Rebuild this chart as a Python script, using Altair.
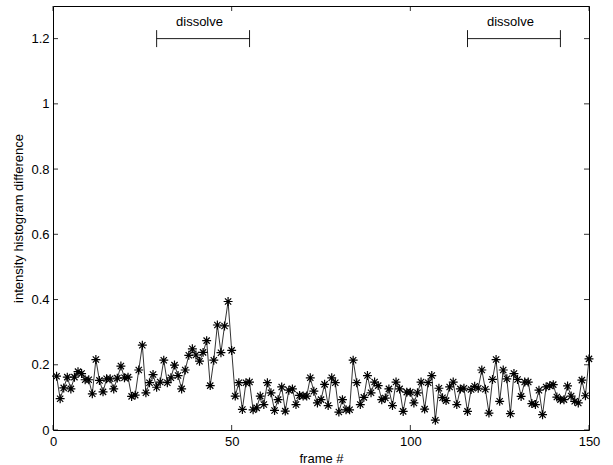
import altair as alt
import pandas as pd

# ---- data ----
frames = list(range(1, 151))
diff = [
    0.165, 0.096, 0.129, 0.162, 0.126, 0.162, 0.179, 0.173, 0.154, 0.154,
    0.111, 0.216, 0.152, 0.117, 0.157, 0.157, 0.126, 0.159, 0.196, 0.160,
    0.162, 0.103, 0.107, 0.184, 0.260, 0.114, 0.145, 0.170, 0.131, 0.147,
    0.214, 0.145, 0.160, 0.199, 0.167, 0.126, 0.184, 0.229, 0.249, 0.230,
    0.211, 0.238, 0.274, 0.136, 0.214, 0.322, 0.237, 0.319, 0.394, 0.244,
    0.104, 0.145, 0.063, 0.145, 0.147, 0.062, 0.068, 0.104, 0.078, 0.145,
    0.114, 0.060, 0.093, 0.132, 0.058, 0.122, 0.126, 0.078, 0.106, 0.104,
    0.104, 0.160, 0.119, 0.083, 0.093, 0.140, 0.075, 0.160, 0.145, 0.055,
    0.093, 0.062, 0.062, 0.214, 0.145, 0.078, 0.100, 0.167, 0.114, 0.147,
    0.136, 0.093, 0.098, 0.126, 0.075, 0.147, 0.126, 0.057, 0.116, 0.116,
    0.083, 0.114, 0.147, 0.064, 0.145, 0.167, 0.030, 0.128, 0.099, 0.090,
    0.132, 0.147, 0.078, 0.126, 0.128, 0.057, 0.124, 0.134, 0.128, 0.184,
    0.125, 0.052, 0.155, 0.216, 0.088, 0.184, 0.157, 0.050, 0.173, 0.155,
    0.103, 0.147, 0.147, 0.081, 0.078, 0.122, 0.047, 0.132, 0.136, 0.139,
    0.101, 0.093, 0.093, 0.135, 0.104, 0.088, 0.083, 0.153, 0.105, 0.218,
]
x_ticks = [0, 50, 100, 150]
y_ticks = [0, 0.2, 0.4, 0.6, 0.8, 1.0, 1.2]
dissolve_start = [29, 116]
dissolve_end = [55, 142]
dissolve_level = [1.2, 1.2]
dissolve_text = ["dissolve", "dissolve"]
dissolve_text_x = [41, 128]
dissolve_text_y = [1.25, 1.25]

W, H = 536, 424
FONT = "Liberation Sans"
FS = 13

df = pd.DataFrame({"frame": frames, "diff": diff})
xt = pd.DataFrame({"t": x_ticks})
yt = pd.DataFrame({"t": y_ticks})
dz = pd.DataFrame({"s": dissolve_start, "e": dissolve_end, "lvl": dissolve_level,
                   "txt": dissolve_text, "tx": dissolve_text_x, "ty": dissolve_text_y})

xs = alt.Scale(domain=[0, 150], nice=False, zero=False)
ys = alt.Scale(domain=[0, 1.3], nice=False, zero=False)

xaxis = alt.Axis(values=x_ticks, ticks=False, grid=False, domain=False,
                 labelPadding=5, titlePadding=4, labelFontSize=FS, titleFontSize=FS,
                 labelFont=FONT, titleFont=FONT, titleFontWeight="normal",
                 labelColor="black", titleColor="black", labelFlush=False)
yaxis = alt.Axis(values=y_ticks, ticks=False, grid=False, domain=False, format="~g",
                 labelPadding=4, labelFontSize=FS, titleFontSize=FS,
                 labelFont=FONT, titleFont=FONT, titleFontWeight="normal",
                 labelColor="black", titleColor="black", titleX=-28, labelFlush=False)

asterisk = "M0,-1L0,1M-1,0L1,0M-0.7,-0.7L0.7,0.7M-0.7,0.7L0.7,-0.7"

line = alt.Chart(df).mark_line(color="black", strokeWidth=0.8).encode(
    x=alt.X("frame:Q", scale=xs, axis=xaxis, title="frame #"),
    y=alt.Y("diff:Q", scale=ys, axis=yaxis, title="intensity histogram difference"),
)
pts = alt.Chart(df).mark_point(shape=asterisk, size=80, color="black",
                               strokeWidth=1.2, filled=False, opacity=1).encode(
    x=alt.X("frame:Q", scale=xs), y=alt.Y("diff:Q", scale=ys))

tick_len = 5
xb = alt.Chart(xt).mark_rule(color="black", strokeWidth=0.8).encode(
    x=alt.X("t:Q", scale=xs), y=alt.value(H), y2=alt.value(H - tick_len))
xtop = alt.Chart(xt).mark_rule(color="black", strokeWidth=0.8).encode(
    x=alt.X("t:Q", scale=xs), y=alt.value(0), y2=alt.value(tick_len))
yl = alt.Chart(yt).mark_rule(color="black", strokeWidth=0.8).encode(
    y=alt.Y("t:Q", scale=ys), x=alt.value(0), x2=alt.value(tick_len))
yr = alt.Chart(yt).mark_rule(color="black", strokeWidth=0.8).encode(
    y=alt.Y("t:Q", scale=ys), x=alt.value(W - tick_len), x2=alt.value(W))

dbar = alt.Chart(dz).mark_rule(color="black", strokeWidth=0.9).encode(
    x=alt.X("s:Q", scale=xs), x2="e:Q", y=alt.Y("lvl:Q", scale=ys))
dz_l = alt.Chart(dz).transform_calculate(lo="datum.lvl - 0.026", hi="datum.lvl + 0.026")
dcap1 = dz_l.mark_rule(color="black", strokeWidth=0.9).encode(
    x=alt.X("s:Q", scale=xs), y=alt.Y("lo:Q", scale=ys), y2="hi:Q")
dcap2 = dz_l.mark_rule(color="black", strokeWidth=0.9).encode(
    x=alt.X("e:Q", scale=xs), y=alt.Y("lo:Q", scale=ys), y2="hi:Q")
dtext = alt.Chart(dz).mark_text(font=FONT, fontSize=FS, color="black",
                                align="center", baseline="middle").encode(
    x=alt.X("tx:Q", scale=xs), y=alt.Y("ty:Q", scale=ys), text="txt:N")

chart = alt.layer(line, pts, xb, xtop, yl, yr, dbar, dcap1, dcap2, dtext).properties(
    width=W, height=H,
    autosize=alt.AutoSizeParams(type="none"),
    padding={"left": 53, "top": 6, "right": 24, "bottom": 35},
    background="white",
).configure_view(stroke="black", strokeWidth=1)

chart.save("out.html", embed_options={"renderer": "svg", "actions": False})
